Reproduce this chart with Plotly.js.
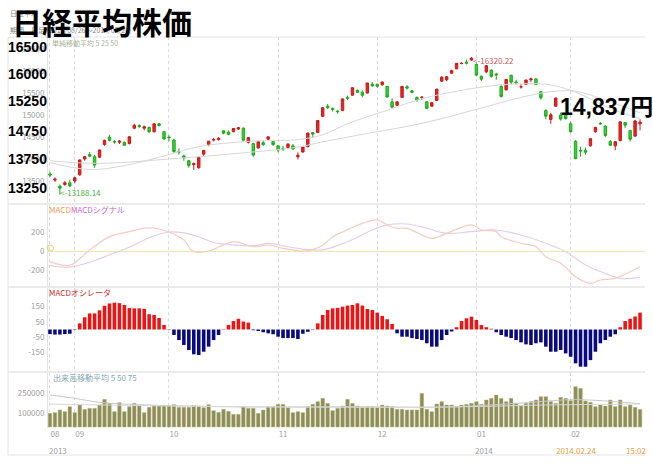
<!DOCTYPE html>
<html><head><meta charset="utf-8">
<script src="https://cdn.plot.ly/plotly-3.0.1.min.js"></script>
<style>html,body{margin:0;padding:0;background:#fff}#chart{width:653px;height:469px}</style>
</head><body><div id="chart"></div>
<script>
// ---- data (trading-day index 0 = 2013-08-26 ... 119 = 2014-02-24) ----
const tickIdx  = [0, 5, 24, 46, 66, 86, 105];
const tickText = ['08', '09', '10', '11', '12', '01', '02'];
const priceTickVals = [13500, 14000, 14500, 15000, 15500, 16000, 16500];

const openP = [13660,13520,13380,13420,13460,13500,13640,14000,14100,14050,
14040,14330,14500,14400,14380,14380,14350,14700,14760,14700,
14720,14620,14800,14620,14500,14430,14170,14070,13960,13870,
13800,14110,14330,14430,14440,14640,14610,14620,14680,14700,
14380,14350,14250,14370,14450,14400,14300,14230,14260,14300,
14050,14160,14280,14600,14600,14970,15200,15150,15090,15100,
15400,15450,15560,15520,15500,15700,15700,15690,15650,15300,
15220,15400,15640,15550,15400,15400,15300,15200,15330,15770,
15800,15950,16050,16170,16200,16250,16150,15880,15980,16020,
15930,15650,15570,15900,15750,15640,15700,15800,15820,15530,
15100,14900,15200,15000,15010,14800,14400,14200,14200,14300,
14620,14810,14750,14400,14300,14420,14830,14650,14520,14800];
const highP = [13710,13580,13420,13500,13530,13600,13990,14070,14160,14100,
14210,14440,14550,14430,14430,14400,14520,14800,14790,14760,
14730,14820,14820,14630,14540,14460,14240,14100,13980,13920,
14050,14200,14410,14480,14500,14650,14650,14700,14720,14720,
14500,14370,14400,14420,14510,14420,14320,14300,14360,14340,
14150,14280,14600,14610,14880,15170,15250,15170,15100,15380,
15440,15630,15580,15560,15730,15750,15710,15760,15660,15380,
15310,15660,15680,15570,15420,15430,15310,15300,15600,15880,
15880,16030,16180,16200,16260,16320,16170,15900,16130,16040,
15960,15700,15820,15920,15800,15700,15800,15850,15840,15550,
15130,15050,15400,15060,15040,14850,14430,14280,14260,14470,
14730,14840,14760,14430,14400,14850,14840,14660,14890,14900];
const lowP = [13590,13480,13188,13390,13360,13450,13620,13960,14040,13800,
14020,14300,14400,14350,14340,14300,14330,14680,14700,14650,
14590,14600,14740,14440,14400,14130,14100,13960,13800,13750,
13780,14070,14290,14400,14420,14560,14540,14610,14660,14420,
14350,14050,14240,14300,14440,14300,14150,14180,14240,14200,
13990,14140,14270,14480,14590,14950,15140,15080,15030,15090,
15340,15440,15500,15400,15490,15640,15620,15660,15400,15150,
15200,15390,15580,15490,15300,15340,15130,15190,15320,15750,
15770,15930,16040,16150,16150,16230,15880,15770,15950,15850,
15800,15400,15560,15700,15700,15600,15690,15750,15680,15350,
14900,14800,15190,14870,14900,14600,13995,14050,14100,14280,
14600,14780,14500,14300,14200,14400,14700,14400,14500,14650];
const closeP = [13636,13542,13338,13459,13389,13573,13979,14054,14065,13861,
14205,14424,14425,14388,14405,14312,14506,14766,14742,14733,
14620,14800,14760,14456,14485,14170,14157,14025,13853,13895,
14038,14195,14405,14441,14468,14587,14562,14694,14713,14427,
14486,14089,14396,14326,14503,14328,14202,14225,14338,14229,
14086,14270,14589,14567,14876,15166,15165,15127,15076,15366,
15382,15620,15516,15450,15728,15662,15655,15750,15408,15178,
15300,15651,15612,15516,15342,15404,15153,15280,15587,15860,
15870,16010,16174,16175,16179,16291,15909,15814,16121,15880,
15912,15422,15809,15747,15734,15641,15796,15820,15696,15391,
14972,15006,15384,14907,14915,14620,14009,14181,14155,14463,
14719,14800,14535,14313,14393,14844,14767,14450,14866,14838];

const ma25Idx = [0, 8, 15, 24, 30, 40, 50, 55, 60, 68, 75, 82, 88, 95, 100, 104, 108, 113, 119];
const ma25Val = [13920,13760,13850,14100,14280,14400,14440,14550,14800,15110,15370,15540,15650,15710,15700,15600,15420,15150,14920];
const ma50Idx = [0, 10, 24, 40, 50, 55, 65, 75, 88, 95, 101, 106, 112, 119];
const ma50Val = [13960,13900,14000,14150,14270,14390,14600,14810,15190,15400,15530,15540,15340,15050];

const macdIdx = [0,4,8,12,16,19,21,24,27,29,32,37,41,44,47,51,53,55,57,59,63,66,68,70,72,77,80,85,87,90,91,95,98,100,103,106,109,111,114,117,119];
const macdVal = [-112,-150,10,151,204,240,242,200,116,-7,0,98,46,63,28,0,15,60,150,200,291,326,274,239,239,133,186,274,221,204,151,81,46,-60,-130,-270,-340,-305,-288,-218,-165];
const sigIdx = [0,4,9,12,16,20,24,27,30,33,37,41,44,47,51,55,60,65,68,72,76,80,85,90,95,100,104,108,112,115,119];
const sigVal = [-150,-170,-100,-40,40,140,200,190,150,90,65,55,80,55,20,12,98,221,274,284,239,186,204,221,168,81,-7,-147,-235,-288,-277];

const osc = [-30,-33,-33,-30,-28,-3,40,80,105,105,
125,155,170,175,172,160,140,138,138,135,
100,95,75,30,3,-36,-69,-101,-134,-162,
-167,-145,-112,-69,-36,3,30,55,70,52,
45,-5,-10,-18,-25,-31,-47,-56,-56,-56,
-62,-28,-15,3,40,95,127,138,141,149,
156,160,171,156,134,127,110,88,67,36,
-25,-47,-47,-56,-62,-69,-90,-112,-112,-69,
-36,-13,15,55,73,84,62,29,15,5,
-18,-36,-47,-56,-69,-84,-97,-101,-90,-84,
-112,-145,-145,-134,-156,-178,-221,-243,-243,-200,
-145,-90,-69,-47,-31,15,55,70,85,110];

const volume = [102500,107500,127500,115000,152500,107500,165000,132500,140000,140000,
165000,207500,177500,115000,182500,115000,152500,177500,157500,107500,
147500,157500,157500,157500,157500,167500,147500,147500,147500,160000,
157500,145000,167500,122500,110000,132500,117500,95000,95000,152500,
140000,140000,102500,127500,152500,152500,170000,170000,145000,107500,
115000,107500,152500,170000,190000,215000,177500,122500,140000,157500,
207500,177500,157500,147500,152500,152500,147500,165000,157500,152500,
132500,132500,127500,127500,127500,252500,132500,115000,172500,190000,
165000,165000,152500,165000,170000,177500,190000,170000,202500,215000,
240000,215000,190000,215000,177500,157500,177500,190000,202500,227500,
227500,190000,177500,222500,215000,197500,302500,290000,195000,185000,
152500,165000,157500,202500,152500,202500,152500,165000,147500,132500];

const volMaAIdx = [0, 5, 10, 20, 40, 60, 80, 95, 105, 110, 119];
const volMaAVal = [240000,215000,185000,165000,150000,152000,150000,180000,205000,200000,175000];
const volMaBIdx = [0, 20, 50, 80, 100, 119];
const volMaBVal = [172000,160000,150000,150000,165000,172000];

// ---- helpers for layout positioning (pixel -> paper) ----
const PL = 48, PW = 597, PB = 428, PH = 391;
const px = p => (p - PL) / PW;
const py = p => (PB - p) / PH;

const idx = closeP.map((_, i) => i);

const traces = [
  {type:'scatter', mode:'lines', x:ma50Idx, y:ma50Val, line:{color:'#d6d6d6', width:1, shape:'spline'}, hoverinfo:'skip', xaxis:'x', yaxis:'y'},
  {type:'scatter', mode:'lines', x:ma25Idx, y:ma25Val, line:{color:'#d6d6d6', width:1, shape:'spline'}, hoverinfo:'skip', xaxis:'x', yaxis:'y'},
  {type:'candlestick', x:idx, open:openP, high:highP, low:lowP, close:closeP,
   increasing:{line:{color:'#c81c1c', width:1}, fillcolor:'#e82424'},
   decreasing:{line:{color:'#1ea81e', width:1}, fillcolor:'#36d436'},
   whiskerwidth:0, xaxis:'x', yaxis:'y'},
  {type:'scatter', mode:'lines', x:sigIdx, y:sigVal, line:{color:'#e6cde6', width:1.2, shape:'spline'}, xaxis:'x', yaxis:'y2'},
  {type:'scatter', mode:'lines', x:macdIdx, y:macdVal, line:{color:'#f3cdc0', width:1.2, shape:'spline'}, xaxis:'x', yaxis:'y2'},
  {type:'bar', x:idx, y:osc, marker:{color:osc.map(v => v >= 0 ? '#ee1414' : '#0a0a80')}, xaxis:'x', yaxis:'y3'},
  {type:'bar', x:idx, y:volume, marker:{color:'#8d8d55', line:{color:'#b4b488', width:0.5}}, xaxis:'x', yaxis:'y4'},
  {type:'scatter', mode:'lines', x:volMaAIdx, y:volMaAVal, line:{color:'#c8c8c8', width:1, shape:'spline'}, xaxis:'x', yaxis:'y4'},
  {type:'scatter', mode:'lines', x:volMaBIdx, y:volMaBVal, line:{color:'#d8d8d8', width:1, shape:'spline'}, xaxis:'x', yaxis:'y4'}
];

const small = {family:'Noto Sans CJK JP, sans-serif', size:8, color:'#a0a0a0'};
const axY = {showgrid:false, zeroline:false, showline:true, linecolor:'#e2e2e2', ticks:'', tickfont:small, fixedrange:true, ticklabelstandoff:1};

const ann = (x, y, text, font, xanchor) => ({xref:'paper', yref:'paper', x:px(x), y:py(y), text, font, showarrow:false, xanchor:xanchor||'left', yanchor:'middle'});
const bigY = {family:'Liberation Sans, Arial, sans-serif', size:14, color:'#000'};

const layout = {
  width:653, height:469, margin:{l:PL, r:8, t:37, b:41},
  paper_bgcolor:'#fff', plot_bgcolor:'#fff', showlegend:false, bargap:0.28,
  xaxis:{range:[-0.4, 120], tickvals:tickIdx, ticktext:tickText, showgrid:true, gridcolor:'#dadada', griddash:'dot',
         zeroline:false, showline:false, ticks:'', tickfont:small, anchor:'y4', rangeslider:{visible:false}, fixedrange:true, ticklabelshift:5},
  yaxis:Object.assign({}, axY, {domain:[py(203), 1], range:[13000, 16773], tickvals:priceTickVals, ticktext:priceTickVals.map(String)}),
  yaxis2:Object.assign({}, axY, {domain:[py(286), py(205)], range:[-368, 484], tickvals:[-200, 0, 200], ticktext:['-200','0','200'],
         zeroline:true, zerolinecolor:'#f1e6b0', zerolinewidth:1}),
  yaxis3:Object.assign({}, axY, {domain:[py(371), py(288)], range:[-271, 271], tickvals:[-150, -50, 50, 150], ticktext:['-150','-50','50','150']}),
  yaxis4:Object.assign({}, axY, {domain:[0, py(373)], range:[-7500, 405000], tickvals:[100000, 250000], ticktext:['100000','250000']}),
  shapes:[
    {type:'line', xref:'paper', yref:'paper', x0:px(8), x1:px(8), y0:py(37), y1:py(455), line:{color:'#e4e4e4', width:1}},
    {type:'line', xref:'paper', yref:'paper', x0:px(8), x1:px(645), y0:py(37), y1:py(37), line:{color:'#e4e4e4', width:1}},
    {type:'line', xref:'paper', yref:'paper', x0:px(8), x1:px(645), y0:py(204), y1:py(204), line:{color:'#e4e4e4', width:1.5}},
    {type:'line', xref:'paper', yref:'paper', x0:px(8), x1:px(645), y0:py(287), y1:py(287), line:{color:'#e4e4e4', width:1.5}},
    {type:'line', xref:'paper', yref:'paper', x0:px(8), x1:px(645), y0:py(372), y1:py(372), line:{color:'#e4e4e4', width:1.5}},
    {type:'line', xref:'paper', yref:'paper', x0:px(8), x1:px(645), y0:py(455), y1:py(455), line:{color:'#e4e4e4', width:1}},
    {type:'circle', xref:'paper', yref:'paper', x0:px(47.5), x1:px(53.5), y0:py(251), y1:py(245), line:{color:'#d6d66a', width:1}}
  ],
  annotations:[
    ann(8, 13, '日経平均', {family:'Noto Sans CJK JP', size:7, color:'#888'}),
    ann(8, 30, '期間　日足 (2013/08/26～2014/02/24)', {family:'Noto Sans CJK JP', size:7, color:'#888'}),
    ann(10, 21.5, '<b>日経平均株価</b>', {family:'Noto Sans CJK JP, sans-serif', size:30, color:'#000'}),
    ann(50, 43, '単純移動平均 5 25 50', {family:'Noto Sans CJK JP', size:7, color:'#a9b394'}),
    ann(49, 46.7, '<b>16500</b>', bigY, 'right'),
    ann(49, 73.5, '<b>16000</b>', bigY, 'right'),
    ann(49, 101, '<b>15250</b>', bigY, 'right'),
    ann(49, 131, '<b>14750</b>', bigY, 'right'),
    ann(49, 159, '<b>13750</b>', bigY, 'right'),
    ann(49, 187.5, '<b>13250</b>', bigY, 'right'),
    ann(471, 60, '&lt;-16320.22', {family:'Noto Sans CJK JP', size:8, color:'#c05a5a'}),
    ann(58, 192, '&lt;-13188.14', {family:'Noto Sans CJK JP', size:8, color:'#4caf4c'}),
    ann(558, 106.5, '<b>14,837円</b>', {family:'Liberation Sans, Noto Sans CJK JP, sans-serif', size:23, color:'#000'}),
    ann(47, 210, '<span style="color:#f09a50">MACD</span><span style="color:#cc66cc">MACDシグナル</span>', {family:'Noto Sans CJK JP', size:8}),
    ann(47, 292, 'MACDオシレータ', {family:'Noto Sans CJK JP', size:8, color:'#d02828'}),
    ann(51, 377, '出来高移動平均 5 50 75', {family:'Noto Sans CJK JP', size:8, color:'#86a8b6'}),
    ann(47, 450, '2013', small),
    ann(473, 450, '2014', small),
    ann(554, 450, '2014.02.24', {family:'Noto Sans CJK JP', size:8, color:'#e6a03c'}),
    ann(624, 450, '15:02', {family:'Noto Sans CJK JP', size:8, color:'#e6a03c'})
  ]
};

Plotly.newPlot('chart', traces, layout, {displayModeBar:false, staticPlot:true});
</script>
</body></html>
